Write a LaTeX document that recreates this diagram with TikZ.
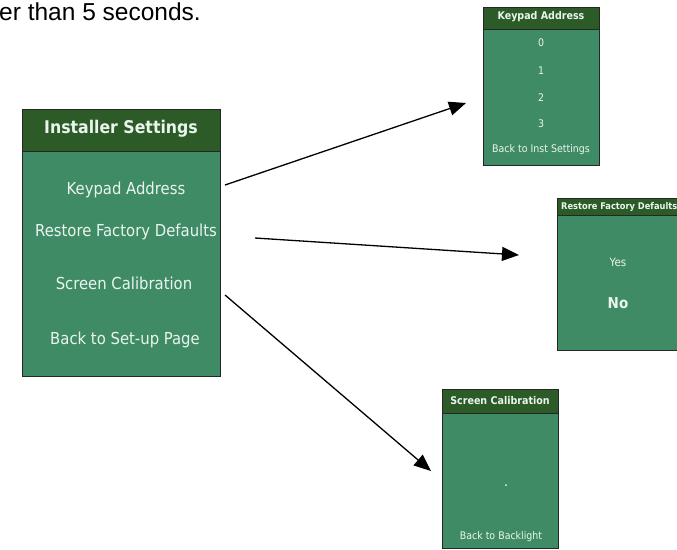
\documentclass[tikz,border=0pt]{standalone}
\usepackage{fontspec}
\setmainfont{Liberation Sans}
\newfontfamily\panelfont{DejaVu Sans Condensed}
\usetikzlibrary{arrows.meta}
\definecolor{panelgreen}{HTML}{3F8B66}
\definecolor{headgreen}{HTML}{2C5B27}
\definecolor{paneltext}{HTML}{EAF5EE}

\begin{document}
\begin{tikzpicture}[x=1pt,y=-1pt,
	frame/.style={draw=black!85,line width=1pt},
	menuitem/.style={text=paneltext,inner sep=0pt,font=\panelfont\fontsize{#1}{#1}\selectfont},
	menuhead/.style={text=paneltext,inner sep=0pt,font=\panelfont\bfseries\fontsize{#1}{#1}\selectfont},
	pointer/.style={-{Triangle[length=17pt,width=14pt]},line width=1.3pt}]
	\newcommand\Panel[5]{
		\fill[panelgreen] (#1,#2) rectangle (#3,#4);
		\fill[headgreen] (#1,#2) rectangle (#3,#5);
		\draw[frame] (#1,#5) -- (#3,#5);
		\draw[frame] (#1,#2) rectangle (#3,#4);}

	\clip (0,0) rectangle (677,549);

	\node[anchor=base west,inner sep=0pt,font=\fontsize{24.5}{24.5}\selectfont] (note) at (-1,20) {er than 5 seconds.};

	% installer settings
	\Panel{22}{109}{220}{376}{151}
	\node[menuhead=17.5] (inst) at (121,129) {Installer Settings};
	\node[menuitem=16.5] (keypad) at (126,190) {Keypad Address};
	\node[menuitem=16.5] (restore) at (126,232) {Restore Factory Defaults};
	\node[menuitem=16.5] (screen) at (124,283) {Screen Calibration};
	\node[menuitem=16.5] (back) at (125,340) {Back to Set-up Page};

	% keypad address
	\Panel{483}{7}{599}{165}{29}
	\node[menuhead=10.6] (kphead) at (541,17) {Keypad Address};
	\node[menuitem=10.5] (kp0) at (541,43) {0};
	\node[menuitem=10.5] (kp1) at (541,71) {1};
	\node[menuitem=10.5] (kp2) at (541,98) {2};
	\node[menuitem=10.5] (kp3) at (541,124) {3};
	\node[menuitem=10.5] (kpback) at (541,150) {Back to Inst Settings};

	% restore factory defaults
	\Panel{557}{198}{690}{350}{215}
	\node[menuhead=9.2,anchor=west] (rfhead) at (561,207) {Restore Factory Defaults};
	\node[menuitem=11.5] (yes) at (618,262) {Yes};
	\node[menuhead=15] (no) at (618,303) {No};

	% screen calibration
	\Panel{442}{389}{558}{548}{413}
	\node[menuhead=10.6] (schead) at (500,401) {Screen Calibration};
	\fill[paneltext] (506,485) circle (1);
	\node[menuitem=10.5] (scback) at (501,537) {Back to Backlight};

	\coordinate (kpFrom) at (225,185);
	\coordinate (kpTo) at (466,103);
	\coordinate (rfFrom) at (255,238);
	\coordinate (rfTo) at (519,255);
	\coordinate (scFrom) at (225,295);
	\coordinate (scTo) at (431,471);
	\draw[pointer] (kpFrom) -- (kpTo);
	\draw[pointer] (rfFrom) -- (rfTo);
	\draw[pointer] (scFrom) -- (scTo);
\end{tikzpicture}
\end{document}
